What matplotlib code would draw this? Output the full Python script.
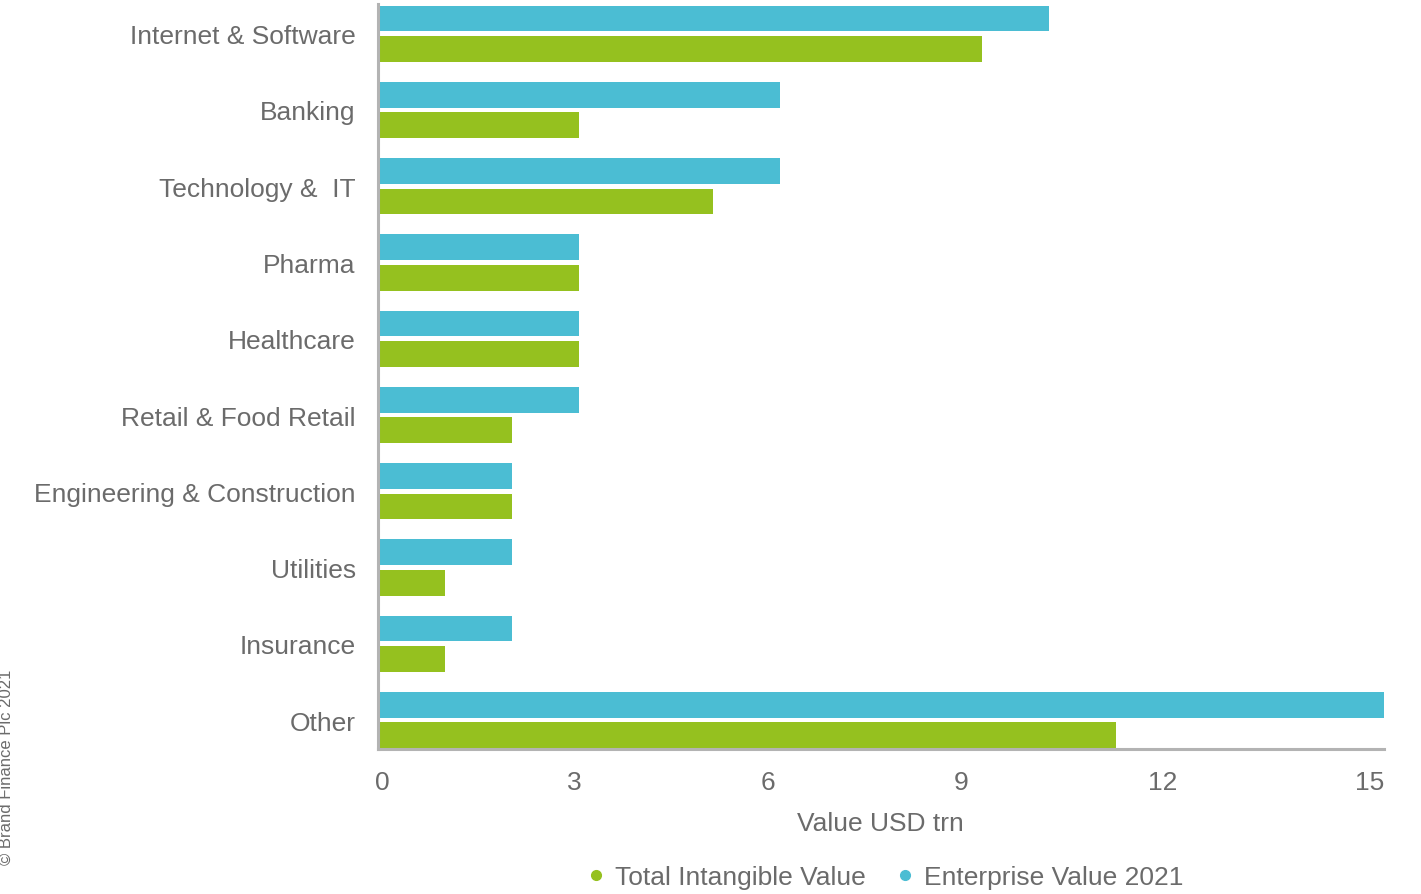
import numpy as np
import matplotlib.pyplot as plt
import matplotlib.transforms as mtransforms
from matplotlib.lines import Line2D

plt.rcParams['font.family'] = ['Liberation Sans', 'DejaVu Sans']

categories = ['Internet & Software', 'Banking', 'Technology &  IT', 'Pharma', 'Healthcare',
              'Retail & Food Retail', 'Engineering & Construction', 'Utilities', 'Insurance', 'Other']
enterprise_value = [10, 6, 6, 3, 3, 3, 2, 2, 2, 15]
intangible_value = [9, 3, 5, 3, 3, 2, 2, 1, 1, 11]
xticks = [0, 3, 6, 9, 12, 15]

ev_color = '#4bbdd3'
tiv_color = '#95c11f'
text_color = '#6b6b6b'
spine_color = '#b3b3b3'

fig = plt.figure(figsize=(14.21, 8.95), dpi=100)
ax = fig.add_axes([378/1421, 145/895, (1384-378)/1421, (750-5)/895])

y = np.arange(len(categories))
h = 0.34
ax.barh(y - 0.2, enterprise_value, height=h, color=ev_color)
ax.barh(y + 0.2, intangible_value, height=h, color=tiv_color)

ax.set_xlim(0, 15)
ax.set_ylim(9.38, -0.39)
ax.set_yticks(y)
ax.set_yticklabels(categories, fontsize=19, color=text_color)
ax.set_xticks(xticks)
ax.set_xticklabels([])
ax.tick_params(axis='y', length=0, pad=16)
ax.tick_params(axis='x', length=0)

# the source chart spreads its x labels a bit unevenly, so draw them by hand
shifts = [-3, -5, -12, -20, -20, 0]
aligns = ['left', 'center', 'center', 'center', 'center', 'right']
for t, dx, ha in zip(xticks, shifts, aligns):
    tr = ax.get_xaxis_transform() + mtransforms.ScaledTranslation(dx/100, -21/100, fig.dpi_scale_trans)
    ax.text(t, 0, str(t), transform=tr, ha=ha, va='top', fontsize=19, color=text_color)

for s in ['top', 'right']:
    ax.spines[s].set_visible(False)
for s in ['left', 'bottom']:
    ax.spines[s].set_color(spine_color)
    ax.spines[s].set_linewidth(2.2)

fig.text(880/1421, 1 - 824/895, 'Value USD trn', fontsize=19, color=text_color,
         ha='center', va='center')

handles = [Line2D([], [], marker='o', linestyle='', color=tiv_color, markersize=7),
           Line2D([], [], marker='o', linestyle='', color=ev_color, markersize=7)]
fig.legend(handles, ['Total Intangible Value', 'Enterprise Value 2021'],
           loc='center', bbox_to_anchor=(883/1421, 1 - 878/895), ncol=2, frameon=False,
           fontsize=19, labelcolor=text_color, handletextpad=0.2, columnspacing=1.0,
           handlelength=1.0)

fig.text(6/1421, 1 - 865/895, '© Brand Finance Plc 2021', rotation=90, fontsize=12,
         color=text_color, ha='center', va='bottom')

fig.savefig('out.png', dpi=100)
